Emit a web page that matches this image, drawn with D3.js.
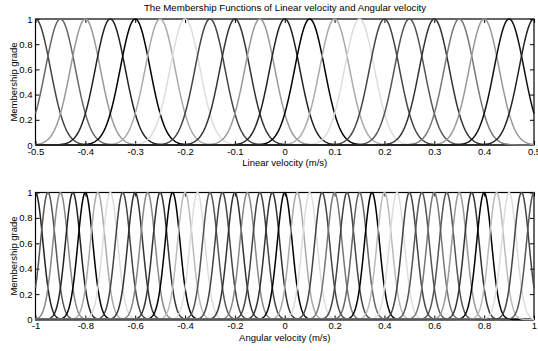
<!DOCTYPE html>
<html><head><meta charset="utf-8">
<script src="https://cdn.jsdelivr.net/npm/d3@7"></script>
<style>
body{margin:0;background:#fff;}
svg{display:block;font-family:"Liberation Sans",Arial,sans-serif;}
</style></head>
<body><div id="chart"></div>
<script>
// ---- data ----
const title = "The Membership Functions of Linear velocity and Angular velocity";
const linearCenters = [-0.5,-0.45,-0.4,-0.35,-0.3,-0.25,-0.2,-0.15,-0.1,-0.05,0,0.05,0.1,0.15,0.2,0.25,0.3,0.35,0.4,0.45,0.5];
const linearSigma = 0.03;
const angularCenters = [-1,-0.95,-0.9,-0.85,-0.8,-0.75,-0.7,-0.65,-0.6,-0.55,-0.5,-0.45,-0.4,-0.35,-0.3,-0.25,-0.2,-0.15,-0.1,-0.05,0,0.05,0.1,0.15,0.2,0.25,0.3,0.35,0.4,0.45,0.5,0.55,0.6,0.65,0.7,0.75,0.8,0.85,0.9,0.95,1];
const angularSigma = 0.03;
const linearTicks = [-0.5,-0.4,-0.3,-0.2,-0.1,0,0.1,0.2,0.3,0.4,0.5];
const angularTicks = [-1,-0.8,-0.6,-0.4,-0.2,0,0.2,0.4,0.6,0.8,1];
const gradeTicks = [0,0.2,0.4,0.6,0.8,1];

// ---- styles ----
const linearColors = ["#444","#666","#999","#222","#000","#aaa","#ddd","#444","#333","#999","#222","#000","#aaa","#ddd","#444","#555","#333","#777","#999","#111","#222"];
const angularColors = ["#222","#555","#888","#222","#000","#aaa","#ddd","#444","#333","#888","#333","#000","#bbb","#ddd","#555","#444","#333","#888","#444","#333","#000","#aaa","#ddd","#444","#777","#444","#666","#000","#bbb","#ddd","#444","#555","#777","#555","#999","#333","#000","#bbb","#ddd","#444","#555"];

const W = 538, H = 351;
const svg = d3.select("#chart").append("svg").attr("width", W).attr("height", H);

svg.append("text").attr("x", 285).attr("y", 11).attr("text-anchor","middle")
  .attr("font-size", 9.7).attr("fill","#000").text(title);

function panel(cfg){
  const x = d3.scaleLinear().domain(cfg.domain).range([35.5, 534]);
  const y = d3.scaleLinear().domain([0,1]).range([cfg.bottom, cfg.top]);
  const g = svg.append("g");
  g.append("rect").attr("x", x.range()[0]).attr("y", cfg.top)
    .attr("width", x.range()[1]-x.range()[0]).attr("height", cfg.bottom-cfg.top)
    .attr("fill","none").attr("stroke","#000").attr("stroke-width",1.2);
  const xa = g.append("g").attr("transform",`translate(0,${cfg.bottom})`)
    .call(d3.axisBottom(x).tickValues(cfg.ticks).tickSize(-4).tickPadding(4).tickFormat(d=>String(d)));
  const xt = g.append("g").attr("transform",`translate(0,${cfg.top})`)
    .call(d3.axisTop(x).tickValues(cfg.ticks).tickSize(-4).tickFormat(""));
  const ya = g.append("g").attr("transform",`translate(${x.range()[0]},0)`)
    .call(d3.axisLeft(y).tickValues(gradeTicks).tickSize(-4).tickPadding(3).tickFormat(d=>String(d)));
  const yr = g.append("g").attr("transform",`translate(${x.range()[1]},0)`)
    .call(d3.axisRight(y).tickValues(gradeTicks).tickSize(-4).tickFormat(""));
  [xa,xt,ya,yr].forEach(a=>{
    a.select(".domain").remove();
    a.selectAll("line").attr("stroke","#000");
    a.selectAll("text").attr("font-size",9.5).attr("fill","#000").attr("font-family","Liberation Sans, Arial, sans-serif");
  });
  xa.selectAll("text").attr("dy","0.6em");
  const n = cfg.samples;
  const xs = d3.range(n+1).map(i => cfg.domain[0] + (cfg.domain[1]-cfg.domain[0])*i/n);
  const line = d3.line().x(d=>x(d[0])).y(d=>y(d[1]));
  cfg.centers.forEach((c,i)=>{
    const pts = xs.map(v => [v, Math.exp(-((v-c)*(v-c))/(2*cfg.sigma*cfg.sigma))]);
    g.append("path").attr("d", line(pts)).attr("fill","none")
      .attr("stroke", cfg.colors[i]).attr("stroke-width",1.5);
  });
  g.append("text").attr("x", (x.range()[0]+x.range()[1])/2).attr("y", cfg.bottom+21)
    .attr("text-anchor","middle").attr("font-size",9.5).text(cfg.xlabel);
  g.append("text").attr("transform",`translate(14,${(cfg.top+cfg.bottom)/2}) rotate(-90)`)
    .attr("text-anchor","middle").attr("font-size",9.5).attr("dy","0.35em").text("Membership grade");
}

panel({domain:[-0.5,0.5], top:19, bottom:145, ticks:linearTicks, centers:linearCenters,
  sigma:linearSigma, colors:linearColors, samples:800, xlabel:"Linear velocity (m/s)"});
panel({domain:[-1,1], top:192.5, bottom:319.5, ticks:angularTicks, centers:angularCenters,
  sigma:angularSigma, colors:angularColors, samples:1600, xlabel:"Angular velocity (m/s)"});
</script>
</body></html>
